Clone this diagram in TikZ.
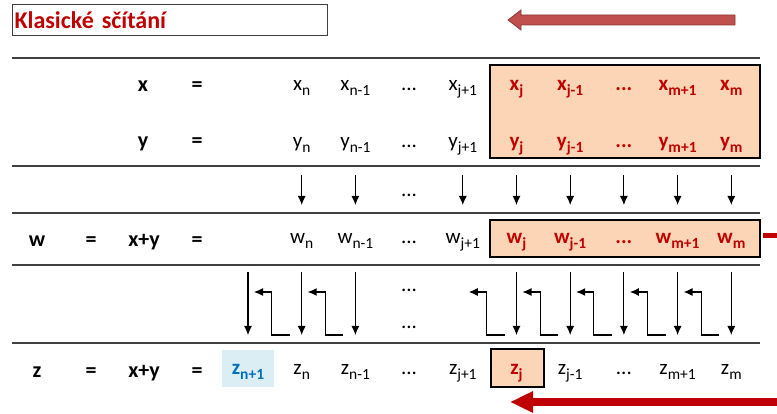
\documentclass[tikz,border=0pt]{standalone}
\usepackage{fontspec}
\setmainfont{Carlito}
\usepackage{tikz}
\usetikzlibrary{positioning, calc, arrows.meta}
\definecolor{accentred}{HTML}{C00000}
\definecolor{softred}{HTML}{C0504D}
\definecolor{softredline}{HTML}{8C3836}
\definecolor{peach}{HTML}{FBD5B5}
\definecolor{iceblue}{HTML}{DAEEF3}
\definecolor{carryblue}{HTML}{0070C0}
\definecolor{rulegray}{HTML}{404040}
\newcommand{\low}[2]{#1\raisebox{-5pt}{\fontsize{15.5}{15}\selectfont #2}}

\begin{document}
\begin{tikzpicture}[x=1pt, y=-1pt,
    cell/.style={anchor=base, inner sep=0pt, font=\fontsize{21}{24}\selectfont},
    hl/.style={text=accentred, font=\fontsize{21}{24}\selectfont\bfseries},
    lbl/.style={anchor=base, inner sep=0pt, font=\fontsize{22}{24}\selectfont\bfseries},
    rule/.style={draw=rulegray, line width=1.3pt},
    hlbox/.style={draw=black, line width=2pt, fill=peach},
    dn/.style={-{Latex[length=9pt, width=8pt]}, line width=1.1pt}]
  \useasboundingbox (0,0) rectangle (777,414);

  % Title and direction arrows
  \node[draw=black!75, line width=1pt, anchor=north west, minimum width=315pt, minimum height=31pt, text width=311pt, inner xsep=2pt, align=left, text=accentred, font=\fontsize{24}{26}\selectfont\bfseries] (title) at (12,4) {Klasické sčítání};
  \draw[fill=softred, draw=softredline, line width=0.8pt] (735,15) -- (521,15) -- (521,10) -- (508,20) -- (521,30) -- (521,25) -- (735,25) -- cycle;
  \coordinate (dirS) at (777,402);
  \coordinate (dirE) at (510,402);
  \draw[accentred, line width=8pt, -{Triangle[length=23pt, width=20pt]}] (dirS) -- (dirE);

  % Rules and boxes
  \foreach \r in {58,166,213,265,343}
    \draw[rule] (12,\r) -- (760,\r);
  \draw[hlbox] (490,65) rectangle (760,158);
  \draw[hlbox] (490,220) rectangle (760,257);
  \fill[iceblue] (222,350) rectangle (274,387);
  \draw[hlbox] (491,349) rectangle (544,387);
  \fill[accentred] (763,233) rectangle (777,238);

  % Left labels
  \node[lbl] (xname) at (143,92) {x};
  \node[lbl] (xeq) at (197,92) {=};
  \node[lbl] (yname) at (143,148) {y};
  \node[lbl] (yeq) at (197,148) {=};
  \node[lbl] (wname) at (37,247) {w};
  \node[lbl] (weq) at (91,247) {=};
  \node[lbl] (wsum) at (144,247) {x+y};
  \node[lbl] (weq2) at (197,247) {=};
  \node[lbl] (zname) at (37,377) {z};
  \node[lbl] (zeq) at (91,377) {=};
  \node[lbl] (zsum) at (144,377) {x+y};
  \node[lbl] (zeq2) at (197,377) {=};

  % Digit rows
  \foreach \v/\b in {x/91, y/148, w/244} {
    \foreach \i/\s in {1/n, 2/n-1, 4/j+1}
      \node[cell] (\v\i) at (248+53.7*\i, \b) {\low{\v}{\s}};
    \node[cell] (\v3) at (248+53.7*3, \b) {...};
    \foreach \i/\s in {5/j, 6/j-1, 8/m+1, 9/m}
      \node[cell, hl] (\v\i) at (248+53.7*\i, \b) {\low{\v}{\s}};
    \node[cell, hl] (\v7) at (248+53.7*7, \b) {...};
  }
  \node[cell, text=carryblue, font=\fontsize{21}{24}\selectfont\bfseries] (z0) at (248,374) {\low{z}{n+1}};
  \foreach \i/\s in {1/n, 2/n-1, 4/j+1, 6/j-1, 8/m+1, 9/m}
    \node[cell] (z\i) at (248+53.7*\i, 374) {\low{z}{\s}};
  \node[cell] (z3) at (248+53.7*3, 374) {...};
  \node[cell] (z7) at (248+53.7*7, 374) {...};
  \node[cell, hl] (z5) at (248+53.7*5, 374) {\low{z}{j}};

  % Levels
  \coordinate (topA) at (0,175);
  \coordinate (botA) at (0,205);
  \coordinate (topB) at (0,272);
  \coordinate (midB) at (0,292);
  \coordinate (botB) at (0,335);

  % Column sums
  \foreach \i in {1,2,4,5,6,7,8,9}
    \draw[dn] (y\i |- topA) -- (w\i |- botA);
  \node[cell] (dotsA) at (409,197) {...};

  % Carries
  \foreach \i in {0,1,2,5,6,7,8,9}
    \draw[dn] (z\i |- topB) -- (z\i |- botB);
  \foreach \k/\j in {1/0, 2/1, 5/4, 6/5, 7/6, 8/7, 9/8}
    \draw[dn] ($(z\k |- botB)+(-12,0)$) -| ($(z\k |- midB)+(-30,0)$) -- ($(z\j |- midB)+(6,0)$);
  \node[cell] (dotsB) at (409,292) {...};
  \node[cell] (dotsC) at (409,329) {...};
\end{tikzpicture}
\end{document}
